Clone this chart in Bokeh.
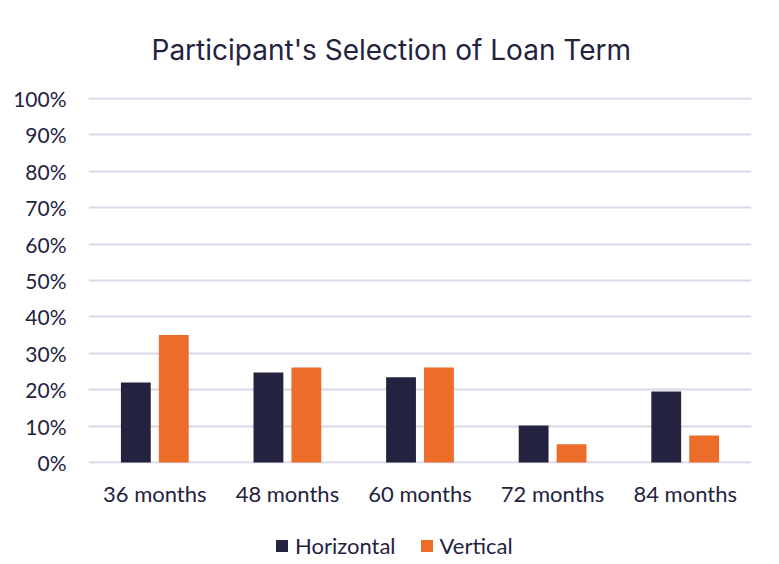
from bokeh.plotting import figure
from bokeh.models import ColumnDataSource, FactorRange, Range1d, NumeralTickFormatter, FixedTicker, Legend, LegendItem, Title
from bokeh.layouts import column
from bokeh.transform import dodge
from bokeh.embed import file_html
from bokeh.resources import INLINE

categories = ["36 months", "48 months", "60 months", "72 months", "84 months"]
horizontal = [0.22, 0.247, 0.234, 0.102, 0.195]
vertical = [0.35, 0.261, 0.261, 0.05, 0.074]
y_ticks = [0.0, 0.1, 0.2, 0.3, 0.4, 0.5, 0.6, 0.7, 0.8, 0.9, 1.0]

NAVY = "#232340"
ORANGE = "#EC6C2A"
GRID = "#D9D7E9"
TEXT = "#232340"
FONT = "Lato"

src = ColumnDataSource(dict(cat=categories, h=horizontal, v=vertical))

p = figure(width=763, height=508, frame_width=663, frame_height=366,
           x_range=FactorRange(*categories, range_padding=0),
           y_range=Range1d(-0.0027, 1.0027), output_backend="svg", toolbar_location=None,
           min_border_left=88, min_border_right=11, min_border_top=89, min_border_bottom=53)
p.title = None
p.add_layout(Title(text="Participant's Selection of Loan Term", align="left",
                   text_font="Inter", text_font_size="28px", text_font_style="normal",
                   text_color=TEXT, offset=63, standoff=61), "above")

r1 = p.vbar(x=dodge("cat", -0.143, range=p.x_range), top="h", width=0.225, source=src,
            color=NAVY, line_color=None)
r2 = p.vbar(x=dodge("cat", 0.143, range=p.x_range), top="v", width=0.225, source=src,
            color=ORANGE, line_color=None)

p.outline_line_color = None
p.xgrid.grid_line_color = None
p.ygrid.grid_line_color = GRID
p.ygrid.grid_line_width = 2
p.yaxis.ticker = FixedTicker(ticks=y_ticks)
p.yaxis.formatter = NumeralTickFormatter(format="0%")
for ax in (p.xaxis[0], p.yaxis[0]):
    ax.axis_line_color = None
    ax.major_tick_line_color = None
    ax.minor_tick_line_color = None
    ax.major_label_text_font = FONT
    ax.major_label_text_color = TEXT
p.xaxis.major_label_text_font_size = "22px"
p.yaxis.major_label_text_font_size = "21px"
p.yaxis.major_label_standoff = 16
p.xaxis.major_label_standoff = 10

# legend strip: a second figure whose frame is the whole strip
p2 = figure(width=763, height=56, x_range=p.x_range, y_range=Range1d(10, 11),
            output_backend="svg", toolbar_location=None,
            min_border_left=0, min_border_right=0, min_border_top=0, min_border_bottom=0)
p2.axis.visible = False
p2.grid.visible = False
p2.outline_line_color = None
p2.title = None
lr1 = p2.vbar(x=dodge("cat", -0.143, range=p2.x_range), top="h", width=0.225, source=src,
              color=NAVY, line_color=None)
lr2 = p2.vbar(x=dodge("cat", 0.143, range=p2.x_range), top="v", width=0.225, source=src,
              color=ORANGE, line_color=None)

legend = Legend(items=[LegendItem(label="Horizontal", renderers=[lr1]),
                       LegendItem(label="Vertical", renderers=[lr2])],
                orientation="horizontal", location=(186, 13),
                label_text_font=FONT, label_text_font_size="22px", label_text_color=TEXT,
                glyph_width=15, glyph_height=15, spacing=23, label_standoff=6,
                border_line_color=None, background_fill_alpha=0, margin=0, padding=0)
p2.add_layout(legend, "center")

layout = column(p, p2, spacing=0)
open("out.html", "w").write(file_html(layout, INLINE))
